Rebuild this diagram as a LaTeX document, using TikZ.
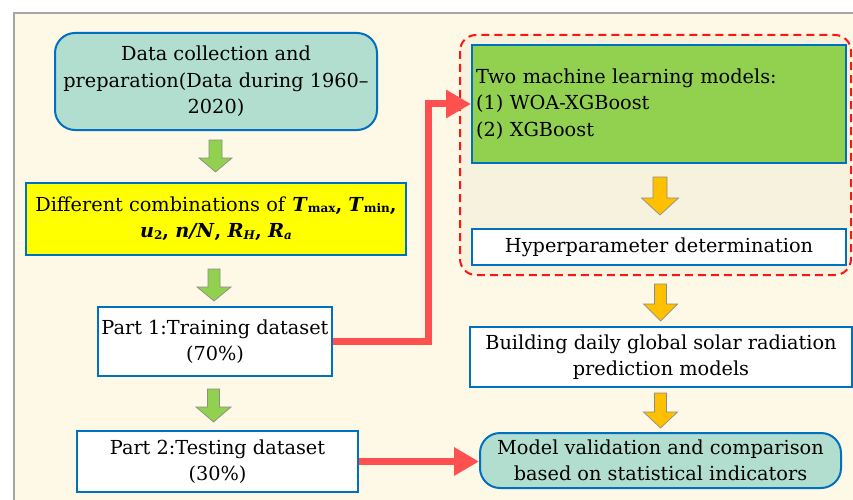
\documentclass[tikz,border=0pt]{standalone}
\usepackage{fontspec}
\setmainfont{DejaVu Serif}
\usetikzlibrary{arrows.meta}
\definecolor{cream}{RGB}{254,248,230}
\definecolor{dashbg}{RGB}{246,242,222}
\definecolor{tealbox}{RGB}{178,222,208}
\definecolor{bordblue}{RGB}{0,112,192}
\definecolor{ygreen}{RGB}{146,208,80}
\definecolor{yel}{RGB}{255,255,0}
\definecolor{orng}{RGB}{255,192,0}
\definecolor{redc}{RGB}{255,80,80}
\definecolor{dashred}{RGB}{255,20,20}
\newcommand{\bv}[1]{\textbf{\textit{#1}}}
\newcommand{\sbx}[1]{\raisebox{-1.5pt}{\fontsize{12}{12}\selectfont\textbf{#1}}}
\newcommand{\blockdown}[7]{%
  \filldraw[fill=#7, draw=black!45, line width=0.7pt]
    (#1-#4/2,#2) -- (#1+#4/2,#2) -- (#1+#4/2,#3-#6) -- (#1+#5/2,#3-#6)
    -- (#1,#3) -- (#1-#5/2,#3-#6) -- (#1-#4/2,#3-#6) -- cycle;}
\tikzset{
  box/.style={draw=bordblue, line width=2pt, fill=white, align=center, inner sep=0pt,
              font=\fontsize{19.3}{26.5}\selectfont},
  rbox/.style={box, rounded corners=20pt, fill=tealbox},
  redline/.style={draw=redc, line width=7pt, -{Triangle[length=25pt,width=27pt]}},
  dashframe/.style={draw=dashred, line width=2pt, dash pattern=on 8pt off 5pt, rounded corners=16pt, fill=dashbg}
}
\begin{document}
\begin{tikzpicture}[x=1pt,y=-1pt]
\useasboundingbox (0,0) rectangle (853,500);
\fill[white] (0,0) rectangle (853,500);
\fill[cream] (14,13) rectangle (860,510);
\draw[black!35, line width=1.2pt] (14,510) -- (14,13) -- (860,13);
\draw[dashframe] (460,35) rectangle (851,275);

\node[rbox, minimum width=322pt, minimum height=97pt] (data) at (216,81.5)
  {Data collection and\\preparation(Data during 1960–\\2020)};
\node[box, fill=yel, minimum width=380pt, minimum height=72pt] (comb) at (216,219)
  {Different combinations of \bv{T}\sbx{max}\textbf{,} \bv{T}\sbx{min}\textbf{,}\\
   \bv{u}\sbx{2}\textbf{,} \bv{n/N}\textbf{,} \bv{R}\sbx{\textit{H}}\textbf{,} \bv{R}\sbx{\textit{a}}};
\node[box, minimum width=234pt, minimum height=69pt] (p1) at (215,341.5)
  {Part 1:Training dataset\\(70\%)};
\node[box, minimum width=281pt, minimum height=61pt] (p2) at (217.5,461.5)
  {Part 2:Testing dataset\\(30\%)};
\node[box, fill=ygreen, minimum width=374pt, minimum height=118pt, text width=366pt, align=left] (ml) at (659,104)
  {Two machine learning models:\\(1) WOA-XGBoost\\(2) XGBoost};
\node[box, minimum width=374pt, minimum height=36pt] (hyp) at (659,247)
  {Hyperparameter determination};
\node[box, minimum width=382pt, minimum height=60pt] (build) at (661,357)
  {Building daily global solar radiation\\prediction models};
\node[rbox, minimum width=361pt, minimum height=55pt] (val) at (660.5,460.5)
  {Model validation and comparison\\based on statistical indicators};

\blockdown{215.5}{140}{172}{13}{33}{14}{ygreen}
\blockdown{214}{269}{301}{12}{34}{14}{ygreen}
\blockdown{213.5}{389}{422}{12}{35}{15}{ygreen}
\blockdown{660}{177}{215}{14}{37}{17}{orng}
\blockdown{660.5}{284}{321}{12}{34}{17}{orng}
\blockdown{660.5}{393}{428}{12}{34}{16}{orng}

\draw[redline] (p1.east) -- ++(95.5,0) |- (ml.west);
\draw[redline] (p2.east) -- (p2.east -| val.west);
\end{tikzpicture}
\end{document}
